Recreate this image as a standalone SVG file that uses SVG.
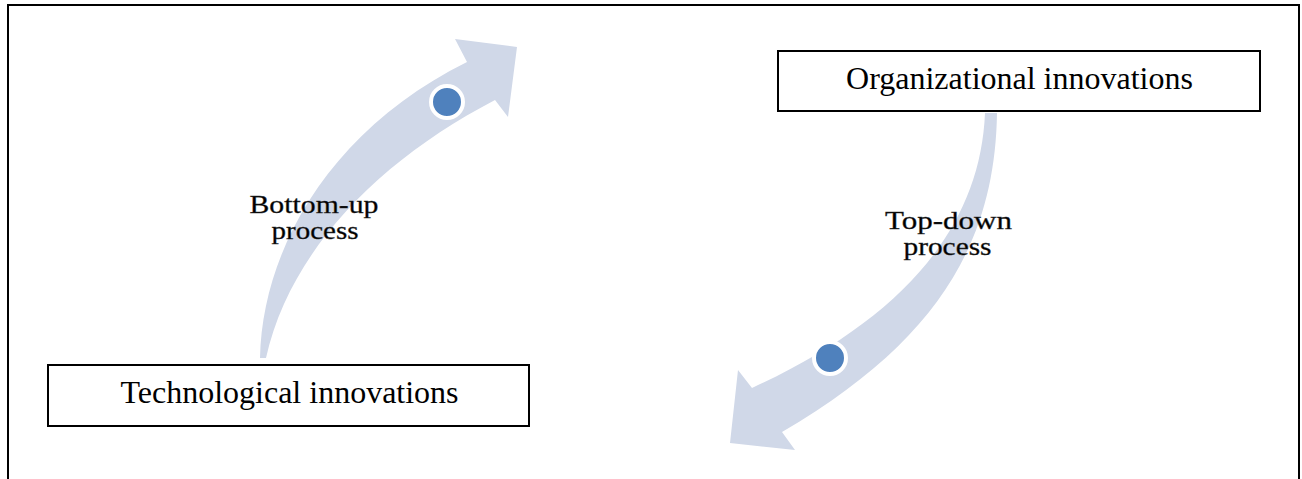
<svg xmlns="http://www.w3.org/2000/svg" width="1302" height="479" viewBox="0 0 1302 479">
<style>
.box{fill:#fff;stroke:#000;stroke-width:2}
.t{font-family:"Liberation Serif","Times New Roman",serif;fill:#000}
.big{font-size:32px;text-anchor:middle}
.lbl{font-size:25px;text-anchor:middle;stroke:#333;stroke-width:0.35}
.arrow{fill:#D0D8E8}
.dot{fill:#4F81BD;stroke:#fff;stroke-width:4}
</style>
<rect width="1302" height="479" fill="#fff"/>
<path d="M8,479 V5 H1299 V479" fill="none" stroke="#000" stroke-width="2"/>
<g id="connectors">
  <g id="bottom-up">
    <path class="arrow" d="M260,358 C262,250 330,130 467,62 L455,39 L517,47 L508,117 L495,100 C380,160 290,250 266,358 Z"/>
    <circle class="dot" cx="447" cy="102" r="16"/>
  </g>
  <g id="top-down">
    <path class="arrow" d="M985,113 C980,230 900,320 752,388 L738,370 L730,443 L795,450 L782,432 C940,340 995,240 997,113 Z"/>
    <circle class="dot" cx="830" cy="358" r="16"/>
  </g>
</g>
<g id="node-org">
  <rect class="box" x="778" y="51" width="482" height="60"/>
  <text class="t big" x="1019.5" y="89">Organizational innovations</text>
</g>
<g id="node-tech">
  <rect class="box" x="48" y="365" width="481" height="61"/>
  <text class="t big" x="289.5" y="403">Technological innovations</text>
</g>
<g id="label-bottom-up">
  <text class="t lbl" x="314" y="213" textLength="129" lengthAdjust="spacingAndGlyphs">Bottom-up</text>
  <text class="t lbl" x="315" y="238.5" textLength="87" lengthAdjust="spacingAndGlyphs">process</text>
</g>
<g id="label-top-down">
  <text class="t lbl" x="948.5" y="228.5" textLength="127" lengthAdjust="spacingAndGlyphs">Top-down</text>
  <text class="t lbl" x="947.5" y="254.5" textLength="88" lengthAdjust="spacingAndGlyphs">process</text>
</g>
</svg>
